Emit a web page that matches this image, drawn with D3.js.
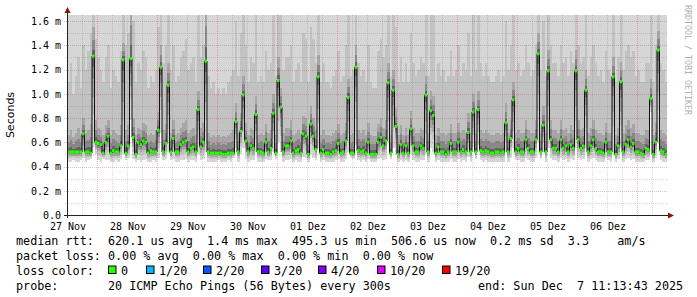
<!DOCTYPE html>
<html>
<head>
<meta charset="utf-8">
<script src="https://cdn.jsdelivr.net/npm/d3@7"></script>
<style>
  body { margin: 0; background: #fff; }
  svg { display: block; }
  text { font-family: "DejaVu Sans Mono", monospace; fill: #000; }
</style>
</head>
<body>
<svg id="chart" width="697" height="297"></svg>
<script>
// hourly median rtt in ms, 27 Nov 12:00 .. 07 Dec 12:00 (one row per day)
const median = [
  0.52,0.52,0.52,0.52,0.52,0.52,0.67,0.52,0.52,0.51,1.31,0.60,0.59,0.58,0.51,0.60,0.65,0.51,0.53,0.52,0.52,0.57,1.28,0.51,
  0.57,1.29,0.64,0.50,0.60,0.58,0.61,0.60,0.51,0.53,0.52,0.52,0.70,1.22,0.52,0.59,1.07,0.52,0.63,0.52,0.52,0.58,0.60,0.61,
  0.52,0.55,0.56,0.52,0.87,0.56,0.60,1.27,0.52,0.51,0.51,0.51,0.51,0.51,0.50,0.50,0.51,0.51,0.51,0.77,0.52,0.69,0.99,0.61,
  0.52,0.57,0.55,0.83,0.52,0.52,0.51,0.60,0.52,0.55,0.84,0.51,1.11,0.89,0.52,0.57,0.57,0.61,0.51,0.53,0.54,0.51,0.67,0.65,
  0.50,0.75,0.65,0.54,1.14,0.51,0.54,0.51,0.51,0.50,0.52,0.53,0.59,0.51,0.52,0.61,0.97,0.51,0.51,1.22,0.53,0.52,0.53,0.51,
  0.60,0.50,0.50,0.50,0.60,0.64,0.57,0.61,1.09,0.51,1.03,0.73,0.50,0.58,0.51,0.57,0.51,0.71,0.57,0.52,0.52,0.57,0.55,0.99,
  0.52,0.86,0.82,0.51,0.56,0.52,0.52,0.50,0.52,0.59,0.52,0.52,0.60,0.52,0.54,0.52,0.68,0.52,0.85,0.52,0.87,0.53,0.52,0.53,
  0.52,0.51,0.51,0.52,0.52,0.51,0.52,0.76,0.52,0.63,0.95,0.52,0.55,0.52,0.52,0.62,0.55,0.52,0.52,0.62,1.33,0.52,0.74,0.52,
  1.19,0.62,0.55,0.55,0.52,0.62,0.55,0.57,0.52,0.58,0.55,1.19,0.62,0.55,0.57,1.03,0.52,0.57,0.62,0.55,0.52,0.52,0.51,0.60,
  0.52,0.52,1.14,0.50,0.57,1.10,0.52,0.58,0.62,0.56,0.59,0.52,0.52,0.51,0.50,0.55,0.54,0.96,0.50,0.60,1.36,0.53,0.52,0.50
];

// smoke: lowest ping of the hour (ms)
const smokeMin = [
  0.44,0.44,0.45,0.44,0.44,0.45,0.47,0.44,0.45,0.46,0.56,0.50,0.45,0.44,0.46,0.45,0.45,0.44,0.44,0.45,0.44,0.46,0.50,0.45,
  0.47,0.78,0.46,0.44,0.45,0.44,0.45,0.46,0.44,0.44,0.45,0.44,0.47,0.68,0.45,0.46,0.52,0.45,0.46,0.44,0.44,0.45,0.45,0.46,
  0.44,0.45,0.45,0.44,0.50,0.45,0.46,0.52,0.44,0.44,0.44,0.44,0.45,0.44,0.44,0.44,0.45,0.44,0.47,0.55,0.44,0.50,0.55,0.46,
  0.44,0.45,0.45,0.52,0.44,0.44,0.44,0.46,0.45,0.45,0.52,0.46,0.60,0.52,0.44,0.45,0.45,0.46,0.44,0.45,0.44,0.44,0.48,0.47,
  0.44,0.50,0.47,0.45,0.55,0.44,0.45,0.44,0.44,0.44,0.44,0.45,0.46,0.44,0.44,0.46,0.52,0.47,0.46,0.58,0.45,0.44,0.45,0.44,
  0.46,0.44,0.44,0.44,0.46,0.47,0.45,0.46,0.60,0.46,0.55,0.50,0.44,0.45,0.44,0.45,0.44,0.50,0.45,0.44,0.44,0.45,0.45,0.50,
  0.44,0.55,0.52,0.44,0.45,0.44,0.44,0.44,0.44,0.46,0.44,0.44,0.46,0.44,0.45,0.44,0.48,0.44,0.56,0.46,0.58,0.45,0.44,0.45,
  0.44,0.44,0.44,0.44,0.44,0.44,0.44,0.52,0.44,0.47,0.55,0.45,0.45,0.44,0.44,0.47,0.45,0.44,0.44,0.47,0.60,0.46,0.52,0.44,
  0.55,0.47,0.45,0.45,0.44,0.47,0.45,0.46,0.44,0.46,0.45,0.55,0.47,0.45,0.46,0.55,0.44,0.46,0.47,0.45,0.44,0.44,0.44,0.47,
  0.45,0.44,0.50,0.44,0.46,0.55,0.44,0.46,0.47,0.45,0.46,0.44,0.44,0.44,0.44,0.45,0.45,0.85,0.44,0.47,0.60,0.45,0.44,0.44
];

// smoke: top of the denser (mid grey) part
const smokeMid = [
  0.66,0.70,0.64,0.68,0.72,0.66,0.80,0.68,0.70,0.75,1.55,0.78,0.72,0.70,0.66,0.74,0.78,0.66,0.70,0.68,0.66,0.74,1.42,0.70,
  0.74,1.80,0.80,0.66,0.72,0.70,0.76,0.74,0.66,0.68,0.66,0.70,0.85,1.40,0.70,0.75,1.25,0.68,0.78,0.66,0.68,0.72,0.76,0.78,
  0.68,0.70,0.72,0.66,1.02,0.72,0.76,1.80,0.68,0.64,0.66,0.64,0.66,0.64,0.65,0.64,0.66,0.68,0.70,0.92,0.68,0.84,1.15,0.76,
  0.66,0.72,0.70,0.98,0.66,0.68,0.66,0.75,0.68,0.70,1.00,0.66,1.30,1.05,0.68,0.72,0.72,0.78,0.66,0.68,0.70,0.66,0.82,0.80,
  0.66,0.90,0.80,0.70,1.32,0.66,0.70,0.66,0.66,0.65,0.68,0.70,0.75,0.66,0.68,0.76,1.12,0.66,0.68,1.40,0.70,0.68,0.70,0.66,
  0.76,0.66,0.65,0.65,0.75,0.80,0.72,0.78,1.25,0.66,1.20,0.88,0.66,0.74,0.66,0.72,0.66,0.86,0.72,0.68,0.68,0.72,0.70,1.15,
  0.68,1.02,0.98,0.66,0.72,0.68,0.68,0.66,0.68,0.75,0.68,0.68,0.76,0.68,0.70,0.68,0.84,0.68,1.00,0.68,1.02,0.70,0.68,0.70,
  0.68,0.66,0.66,0.68,0.68,0.66,0.68,0.92,0.68,0.78,1.10,0.68,0.70,0.68,0.68,0.78,0.70,0.68,0.68,0.78,1.50,0.68,0.90,0.68,
  1.36,0.78,0.70,0.70,0.68,0.78,0.70,0.72,0.68,0.74,0.70,1.36,0.78,0.70,0.72,1.20,0.68,0.72,0.78,0.70,0.68,0.68,0.66,0.76,
  0.68,0.68,1.30,0.66,0.72,1.26,0.68,0.74,0.78,0.72,0.75,0.68,0.68,0.66,0.66,0.70,0.70,1.12,0.66,0.76,1.52,0.70,0.68,0.66
];

// smoke: top of the light grey part (the highest ping is always off the chart)
const smokeHigh = [
  1.10,1.25,1.00,1.15,1.30,1.05,1.40,1.20,1.35,1.50,1.80,1.45,1.30,1.20,1.10,1.30,1.40,1.05,1.20,1.15,1.10,1.35,1.80,1.40,
  1.50,1.80,1.60,1.10,1.25,1.20,1.35,1.30,1.05,1.15,1.10,1.20,1.55,1.80,1.25,1.40,1.80,1.20,1.40,1.10,1.15,1.30,1.35,1.45,
  1.20,1.25,1.30,1.10,1.70,1.30,1.40,1.80,1.15,1.05,1.10,1.00,1.05,1.00,1.05,1.00,1.10,1.15,1.20,1.60,1.15,1.50,1.80,1.40,
  1.10,1.30,1.25,1.65,1.10,1.15,1.10,1.35,1.20,1.25,1.70,1.15,1.80,1.75,1.20,1.30,1.30,1.40,1.10,1.20,1.25,1.10,1.50,1.45,
  1.10,1.55,1.45,1.25,1.80,1.10,1.25,1.10,1.10,1.05,1.15,1.20,1.35,1.10,1.15,1.40,1.80,1.15,1.20,1.80,1.25,1.15,1.20,1.10,
  1.40,1.10,1.05,1.05,1.35,1.45,1.30,1.40,1.80,1.15,1.80,1.55,1.10,1.30,1.10,1.25,1.10,1.50,1.25,1.15,1.20,1.30,1.25,1.80,
  1.15,1.70,1.65,1.10,1.25,1.15,1.20,1.10,1.15,1.35,1.15,1.20,1.40,1.15,1.25,1.20,1.50,1.15,1.70,1.20,1.70,1.25,1.15,1.25,
  1.15,1.10,1.10,1.15,1.20,1.10,1.15,1.60,1.20,1.40,1.80,1.20,1.25,1.15,1.20,1.40,1.25,1.15,1.20,1.40,1.80,1.20,1.60,1.15,
  1.80,1.40,1.25,1.25,1.15,1.40,1.25,1.30,1.15,1.35,1.25,1.80,1.40,1.25,1.30,1.80,1.15,1.30,1.40,1.25,1.15,1.20,1.10,1.35,
  1.20,1.15,1.80,1.10,1.30,1.80,1.20,1.35,1.40,1.30,1.35,1.15,1.20,1.10,1.10,1.25,1.25,1.70,1.10,1.40,1.80,1.25,1.20,1.10
];

const dayLabels = ['27 Nov', '28 Nov', '29 Nov', '30 Nov', '01 Dez', '02 Dez', '03 Dez', '04 Dez', '05 Dez', '06 Dez'];
const yTicks = [0, 0.2, 0.4, 0.6, 0.8, 1.0, 1.2, 1.4, 1.6];

const lossLabels = ['0', '1/20', '2/20', '3/20', '4/20', '10/20', '19/20'];
const lossColors = ['#26ff00', '#00b8ff', '#0059ff', '#5e00ff', '#7e00ff', '#dd00ff', '#ff0000'];

const statLines = [
  'median rtt:  620.1 us avg  1.4 ms max  495.3 us min  506.6 us now  0.2 ms sd  3.3    am/s',
  'packet loss: 0.00 % avg  0.00 % max  0.00 % min  0.00 % now',
  'loss color:',
  'probe:       20 ICMP Echo Pings (56 Bytes) every 300s'
];
const endText = 'end: Sun Dec  7 11:13:43 2025';

const start = new Date(2025, 10, 27, 12);
const end = new Date(2025, 11, 7, 12);

const margin = { top: 15, left: 67 };
const plotW = 600, plotH = 200;

const svg = d3.select('#chart');

const x = d3.scaleTime().domain([start, end]).range([margin.left, margin.left + plotW]);
const y = d3.scaleLinear().domain([0, 1.65]).range([margin.top + plotH, margin.top]);

const hours = median.map((m, i) => ({
  t0: d3.timeHour.offset(start, i),
  t1: d3.timeHour.offset(start, i + 1),
  median: m,
  min: smokeMin[i],
  mid: smokeMid[i],
  high: smokeHigh[i]
}));

svg.append('defs').append('clipPath').attr('id', 'plot-clip')
  .append('rect')
  .attr('x', margin.left).attr('y', margin.top)
  .attr('width', plotW).attr('height', plotH);

// smoke bands, drawn light to dark
const lerp = (a, b, f) => a + (b - a) * f;
const bands = [
  { lo: d => d.min, hi: () => 1.65, fill: '#d6d6d6' },
  { lo: d => lerp(d.min, d.median, 0.35), hi: d => d.high, fill: '#c2c2c2' },
  { lo: d => lerp(d.min, d.median, 0.55), hi: d => d.mid, fill: '#a6a6a6' },
  { lo: d => lerp(d.min, d.median, 0.75), hi: d => lerp(d.median, d.mid, 0.55), fill: '#888888' },
  { lo: d => lerp(d.min, d.median, 0.88), hi: d => lerp(d.median, d.mid, 0.22), fill: '#636363' }
];

const smoke = svg.append('g').attr('clip-path', 'url(#plot-clip)');
bands.forEach(b => {
  smoke.append('g')
    .selectAll('rect')
    .data(hours)
    .join('rect')
    .attr('x', d => x(d.t0))
    .attr('width', d => x(d.t1) - x(d.t0) + 0.05)
    .attr('y', d => y(b.hi(d)))
    .attr('height', d => Math.max(0, y(b.lo(d)) - y(b.hi(d))))
    .attr('fill', b.fill)
    .attr('shape-rendering', 'crispEdges');
});

// grid on top of the smoke
const grid = svg.append('g').attr('stroke-dasharray', '1,1');
const minorX = d3.timeHour.every(6).range(start, end).filter(t => t.getHours() !== 0 && +t !== +start);
const majorX = d3.timeDay.range(start, end);
const minorCol = 'rgba(120,120,120,0.28)';
const majorCol = 'rgba(210,50,50,0.33)';

grid.selectAll('.gx').data(minorX).join('line')
  .attr('x1', d => x(d) + 0.5).attr('x2', d => x(d) + 0.5)
  .attr('y1', margin.top).attr('y2', margin.top + plotH + 2)
  .attr('stroke', minorCol);
grid.selectAll('.gy').data(d3.range(1, 17).filter(i => i % 2)).join('line')
  .attr('x1', margin.left - 2).attr('x2', margin.left + plotW + 1)
  .attr('y1', d => Math.round(y(d / 10)) + 0.5).attr('y2', d => Math.round(y(d / 10)) + 0.5)
  .attr('stroke', minorCol);
grid.selectAll('.mx').data(majorX).join('line')
  .attr('x1', d => x(d) + 0.5).attr('x2', d => x(d) + 0.5)
  .attr('y1', margin.top).attr('y2', margin.top + plotH + 3)
  .attr('stroke', majorCol);
grid.selectAll('.my').data(yTicks.slice(1)).join('line')
  .attr('x1', margin.left - 3).attr('x2', margin.left + plotW + 1)
  .attr('y1', d => Math.round(y(d)) + 0.5).attr('y2', d => Math.round(y(d)) + 0.5)
  .attr('stroke', majorCol);

// median: black step line with loss-coloured caps
const step = d3.line()
  .x(d => x(d[0]))
  .y(d => y(d[1]))
  .curve(d3.curveStepAfter);
const pts = hours.map(d => [d.t0, d.median]);
pts.push([end, median[median.length - 1]]);
svg.append('path')
  .attr('clip-path', 'url(#plot-clip)')
  .attr('d', step(pts))
  .attr('fill', 'none')
  .attr('stroke', '#111')
  .attr('stroke-width', 1);

svg.append('g').selectAll('rect')
  .data(hours)
  .join('rect')
  .attr('x', d => x(d.t0))
  .attr('width', d => x(d.t1) - x(d.t0))
  .attr('y', d => y(d.median) - 1.5)
  .attr('height', 3)
  .attr('fill', lossColors[0]);

// axes
const axisCol = '#222';
svg.append('line')
  .attr('x1', margin.left - 3).attr('x2', margin.left + plotW + 3)
  .attr('y1', margin.top + plotH + 0.5).attr('y2', margin.top + plotH + 0.5)
  .attr('stroke', axisCol);
svg.append('line')
  .attr('x1', margin.left + 0.5).attr('x2', margin.left + 0.5)
  .attr('y1', margin.top + plotH + 3).attr('y2', margin.top - 3)
  .attr('stroke', axisCol);
const arrowCol = '#8b1010';
svg.append('path')
  .attr('d', d3.line()([[margin.left + plotW + 1, margin.top + plotH - 2.5], [margin.left + plotW + 7, margin.top + plotH + 0.5], [margin.left + plotW + 1, margin.top + plotH + 3.5]]) + 'Z')
  .attr('fill', arrowCol);
svg.append('path')
  .attr('d', d3.line()([[margin.left - 2.5, margin.top - 2], [margin.left + 0.5, margin.top - 8], [margin.left + 3.5, margin.top - 2]]) + 'Z')
  .attr('fill', arrowCol);

// tick labels
svg.append('g').selectAll('text')
  .data(dayLabels)
  .join('text')
  .attr('x', (d, i) => x(d3.timeHour.offset(start, 24 * i)) + 1)
  .attr('y', 229.5)
  .attr('text-anchor', 'middle')
  .attr('font-size', 10)
  .text(d => d);

svg.append('g').selectAll('text')
  .data(yTicks)
  .join('text')
  .attr('x', 61)
  .attr('y', d => y(d) + 3.8)
  .attr('text-anchor', 'end')
  .attr('font-size', 10)
  .text(d => d === 0 ? '0.0' : d.toFixed(1) + ' m');

svg.append('text')
  .attr('transform', `translate(14,${margin.top + plotH / 2}) rotate(-90)`)
  .attr('text-anchor', 'middle')
  .style('font-family', '"DejaVu Sans", sans-serif')
  .attr('font-size', 11)
  .text('Seconds');

svg.append('text')
  .attr('transform', 'translate(685,5) rotate(90)')
  .attr('font-size', 8.3)
  .style('fill', '#b0b0b0')
  .text('RRDTOOL / TOBI OETIKER');

// legend
const legend = svg.append('g').attr('font-size', 11.75).style('white-space', 'pre');
legend.selectAll('text.line')
  .data(statLines)
  .join('text')
  .attr('class', 'line')
  .attr('x', 16)
  .attr('y', (d, i) => 244.5 + 15 * i)
  .attr('xml:space', 'preserve')
  .text(d => d);

const lossX = [108, 146, 203, 261, 318, 377, 442];
const lossItem = legend.selectAll('g.loss')
  .data(lossLabels)
  .join('g')
  .attr('class', 'loss')
  .attr('transform', (d, i) => `translate(${lossX[i]},${274.5})`);
lossItem.append('rect')
  .attr('x', 0.5).attr('y', -8.5)
  .attr('width', 7.5).attr('height', 7.5)
  .attr('fill', (d, i) => lossColors[i])
  .attr('stroke', '#000');
lossItem.append('text')
  .attr('x', 13)
  .attr('y', 0)
  .text(d => d);

legend.append('text')
  .attr('x', 478)
  .attr('y', 244.5 + 45)
  .attr('xml:space', 'preserve')
  .text(endText);
</script>
</body>
</html>
